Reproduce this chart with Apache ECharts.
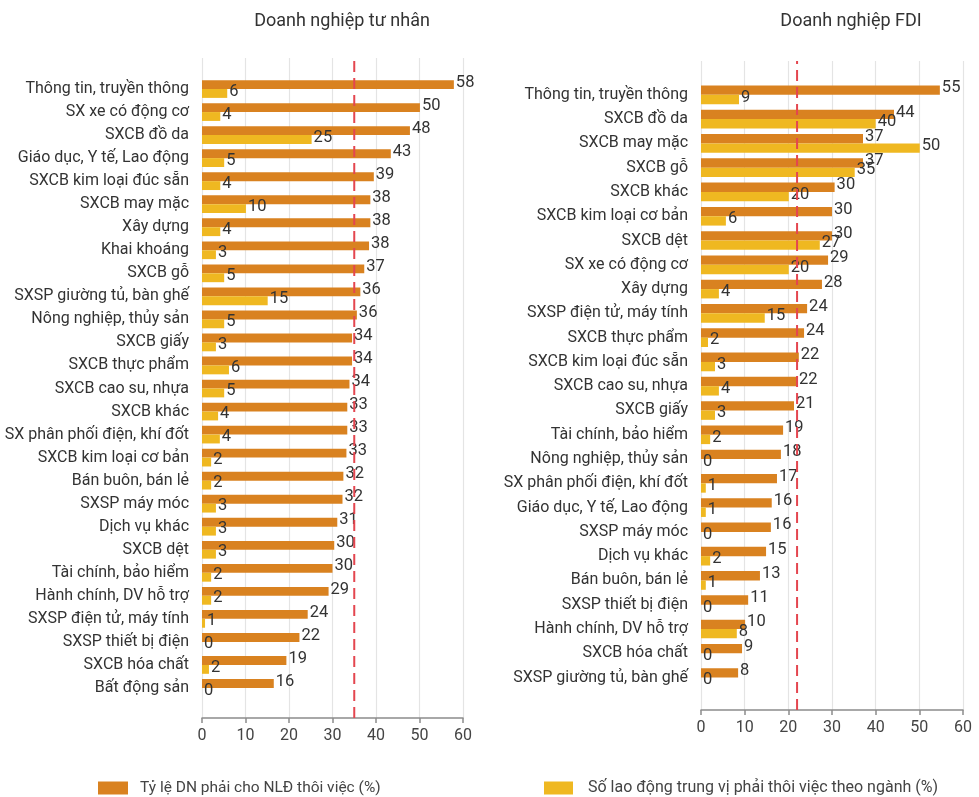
<!DOCTYPE html>
<html>
<head>
<meta charset="utf-8">
<script src="https://cdn.jsdelivr.net/npm/echarts@6/dist/echarts.min.js"></script>
<style>
html,body{margin:0;padding:0;background:#fff;}
#chart{width:979px;height:797px;}
</style>
</head>
<body>
<div id="chart"></div>
<script>
// ---------- DATA ----------
const seriesNames = ['Tỷ lệ DN phải cho NLĐ thôi việc (%)', 'Số lao động trung vị phải thôi việc theo ngành (%)'];
const panelTitles = ['Doanh nghiệp tư nhân', 'Doanh nghiệp FDI'];
const xTicks = [0, 10, 20, 30, 40, 50, 60];

const privateCategories = ['Thông tin, truyền thông','SX xe có động cơ','SXCB đồ da','Giáo dục, Y tế, Lao động','SXCB kim loại đúc sẵn','SXCB may mặc','Xây dựng','Khai khoáng','SXCB gỗ','SXSP giường tủ, bàn ghế','Nông nghiệp, thủy sản','SXCB giấy','SXCB thực phẩm','SXCB cao su, nhựa','SXCB khác','SX phân phối điện, khí đốt','SXCB kim loại cơ bản','Bán buôn, bán lẻ','SXSP máy móc','Dịch vụ khác','SXCB dệt','Tài chính, bảo hiểm','Hành chính, DV hỗ trợ','SXSP điện tử, máy tính','SXSP thiết bị điện','SXCB hóa chất','Bất động sản'];
const privateFirmShare = [57.9,50.1,47.8,43.4,39.5,38.7,38.7,38.4,37.3,36.4,35.6,34.5,34.5,33.9,33.4,33.4,33.2,32.5,32.3,31.1,30.4,30.0,29.1,24.3,22.4,19.4,16.5];
const privateFirmShareLabel = [58,50,48,43,39,38,38,38,37,36,36,34,34,34,33,33,33,32,32,31,30,30,29,24,22,19,16];
const privateWorkerShare = [5.8,4.2,25.2,5.1,4.2,10.1,4.2,3.2,5.1,15.1,5.1,3.2,6.2,5.1,3.7,4.1,2.1,2.1,3.2,3.2,3.2,2.1,2.1,0.7,0,1.6,0];
const privateWorkerShareLabel = [6,4,25,5,4,10,4,3,5,15,5,3,6,5,4,4,2,2,3,3,3,2,2,1,0,2,0];
const privateBenchmark = 35;

const fdiCategories = ['Thông tin, truyền thông','SXCB đồ da','SXCB may mặc','SXCB gỗ','SXCB khác','SXCB kim loại cơ bản','SXCB dệt','SX xe có động cơ','Xây dựng','SXSP điện tử, máy tính','SXCB thực phẩm','SXCB kim loại đúc sẵn','SXCB cao su, nhựa','SXCB giấy','Tài chính, bảo hiểm','Nông nghiệp, thủy sản','SX phân phối điện, khí đốt','Giáo dục, Y tế, Lao động','SXSP máy móc','Dịch vụ khác','Bán buôn, bán lẻ','SXSP thiết bị điện','Hành chính, DV hỗ trợ','SXCB hóa chất','SXSP giường tủ, bàn ghế'];
const fdiFirmShare = [54.7,44.2,37.1,37.1,30.6,30.0,30.0,29.1,27.7,24.3,23.6,22.4,22.0,21.3,18.8,18.3,17.4,16.2,16.0,14.9,13.5,10.8,10.1,9.4,8.5];
const fdiFirmShareLabel = [55,44,37,37,30,30,30,29,28,24,24,22,22,21,19,18,17,16,16,15,13,11,10,9,8];
const fdiWorkerShare = [8.7,40.0,50.1,35.2,20.1,5.7,27.2,20.1,4.1,14.6,1.6,3.2,4.1,3.2,2.1,0,1.1,1.1,0,2.1,1.1,0,8.2,0,0];
const fdiWorkerShareLabel = [9,40,50,35,20,6,27,20,4,15,2,3,4,3,2,0,1,1,0,2,1,0,8,0,0];
const fdiBenchmark = 22;

// ---------- STYLE ----------
const FONT = 'Roboto, "Noto Sans", sans-serif';
const ORANGE = '#D98220';
const YELLOW = '#EFB821';
const RED = '#E4464F';
const TEXT = '#333333';

const chart = echarts.init(document.getElementById('chart'), null, {renderer: 'canvas'});

function outerX(gridIndex) {
  return {
    type: 'value', gridIndex: gridIndex, min: 0, max: 60, interval: 10,
    axisLine: {show: true, lineStyle: {color: '#8c8c8c', width: 1.5}},
    axisTick: {show: true, length: 5, lineStyle: {color: '#8c8c8c', width: 1.5}},
    axisLabel: {fontSize: 16, color: '#444', fontFamily: FONT, margin: 10,
      formatter: function (v) { return xTicks.indexOf(v) >= 0 ? String(v) : ''; }},
    splitLine: {show: true, lineStyle: {color: '#e4e4e4', width: 1.2}}
  };
}
function innerX(gridIndex) {
  return {type: 'value', gridIndex: gridIndex, min: 0, max: 60, show: false, splitLine: {show: false}};
}
function outerY(gridIndex) {
  return {type: 'value', gridIndex: gridIndex, min: 0, max: 1, show: false, splitLine: {show: false}};
}
function catY(gridIndex, cats) {
  return {
    type: 'category', gridIndex: gridIndex, data: cats, inverse: true,
    axisLine: {show: false}, axisTick: {show: false},
    axisLabel: {fontSize: 16, color: TEXT, fontFamily: FONT, margin: 13}
  };
}
function barSeries(name, axisIdx, values, labels, color) {
  return {
    name: name, type: 'bar', xAxisIndex: axisIdx, yAxisIndex: axisIdx,
    data: values, barGap: '0%', barCategoryGap: '23%',
    itemStyle: {color: color},
    label: {show: true, position: 'right', distance: 2, offset: [0, -2],
      fontSize: 16.5, color: TEXT, fontFamily: FONT,
      formatter: function (p) { return String(labels[p.dataIndex]); }},
    emphasis: {disabled: true}, animation: false, z: 2
  };
}
function refLine(axisIdx, value) {
  return {
    name: 'ref' + axisIdx, type: 'line', xAxisIndex: axisIdx, yAxisIndex: axisIdx,
    data: [[value, 0], [value, 1]], symbol: 'none', silent: true,
    lineStyle: {color: RED, width: 2, type: [11, 6]}, z: 5, animation: false
  };
}

const option = {
  backgroundColor: '#ffffff',
  animation: false,
  textStyle: {fontFamily: FONT},
  title: [
    {text: panelTitles[0], left: 337, top: 7, textAlign: 'center',
      textStyle: {fontSize: 18, fontWeight: 'normal', color: TEXT, fontFamily: FONT}},
    {text: panelTitles[1], left: 846, top: 7, textAlign: 'center',
      textStyle: {fontSize: 18, fontWeight: 'normal', color: TEXT, fontFamily: FONT}}
  ],
  legend: [
    {data: [seriesNames[0]], left: 98, top: 780, padding: 0, itemWidth: 30, itemHeight: 13,
      icon: 'rect', selectedMode: false,
      textStyle: {fontSize: 15.5, color: '#444', fontFamily: FONT, padding: [0, 0, 0, 7]}},
    {data: [seriesNames[1]], left: 544, top: 780, padding: 0, itemWidth: 29, itemHeight: 13,
      icon: 'rect', selectedMode: false,
      textStyle: {fontSize: 16, color: '#444', fontFamily: FONT, padding: [0, 0, 0, 10]}}
  ],
  grid: [
    {left: 202, right: 516, top: 58, height: 660, containLabel: false, outerBoundsMode: 'none'},
    {left: 202, right: 516, top: 77.5, height: 622, containLabel: false, outerBoundsMode: 'none'},
    {left: 701, right: 16, top: 61, height: 649, containLabel: false, outerBoundsMode: 'none'},
    {left: 701, right: 16, top: 82.7, height: 607, containLabel: false, outerBoundsMode: 'none'}
  ],
  xAxis: [outerX(0), innerX(1), outerX(2), innerX(3)],
  yAxis: [outerY(0), catY(1, privateCategories), outerY(2), catY(3, fdiCategories)],
  series: [
    barSeries(seriesNames[0], 1, privateFirmShare, privateFirmShareLabel, ORANGE),
    barSeries(seriesNames[1], 1, privateWorkerShare, privateWorkerShareLabel, YELLOW),
    barSeries(seriesNames[0], 3, fdiFirmShare, fdiFirmShareLabel, ORANGE),
    barSeries(seriesNames[1], 3, fdiWorkerShare, fdiWorkerShareLabel, YELLOW),
    refLine(0, privateBenchmark),
    refLine(2, fdiBenchmark)
  ]
};
chart.setOption(option);
</script>
</body>
</html>
